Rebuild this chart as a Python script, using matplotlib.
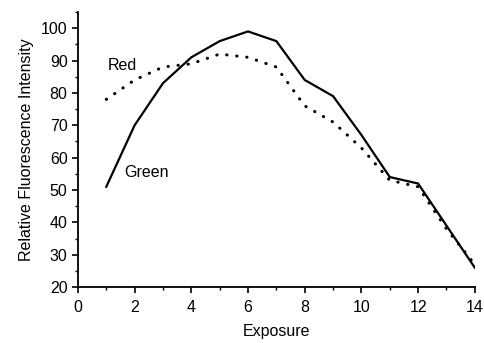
import numpy as np
import matplotlib.pyplot as plt
from matplotlib.ticker import MultipleLocator

plt.rcParams['font.family'] = ['Liberation Sans', 'DejaVu Sans']

# Exposure values and the two intensity series
exposure = [1, 2, 3, 4, 5, 6, 7, 8, 9, 10, 11, 12, 13, 14]
green = [51, 70, 83, 91, 96, 99, 96, 84, 79, 67, 54, 52, 39, 26]
red = [78, 84, 88, 89, 92, 91, 88, 76, 71, 63, 53, 51, 38, 27]

fig = plt.figure(figsize=(4.84, 3.43), dpi=100)
ax = fig.add_axes([0.161, 0.163, 0.82, 0.802])

ax.plot(exposure, green, color='black', lw=1.6, solid_joinstyle='miter')
ax.plot(exposure, red, color='black', lw=2.2, linestyle=(0, (0.1, 3.2)),
        dash_capstyle='round')

ax.text(1.05, 88.5, 'Red', fontsize=11.5, va='center')
ax.text(1.62, 55.5, 'Green', fontsize=11.5, va='center')

ax.set_xlim(0, 14)
ax.set_ylim(20, 105)
ax.xaxis.set_major_locator(MultipleLocator(2))
ax.xaxis.set_minor_locator(MultipleLocator(1))
ax.yaxis.set_major_locator(MultipleLocator(10))
ax.yaxis.set_minor_locator(MultipleLocator(5))
ax.set_yticks(np.arange(20, 101, 10))
ax.tick_params(which='major', direction='out', length=4, width=1.2, labelsize=11.5)
ax.tick_params(axis='x', which='major', pad=5)
ax.tick_params(which='minor', direction='out', length=2.5, width=1)
ax.spines['top'].set_visible(False)
ax.spines['right'].set_visible(False)
ax.spines['left'].set_linewidth(1.3)
ax.spines['bottom'].set_linewidth(1.3)

ax.set_xlabel('Exposure', fontsize=11.5, labelpad=7)
ax.set_ylabel('Relative Fluorescence Intensity', fontsize=11.5, labelpad=5)

fig.savefig('out.png', dpi=100)
